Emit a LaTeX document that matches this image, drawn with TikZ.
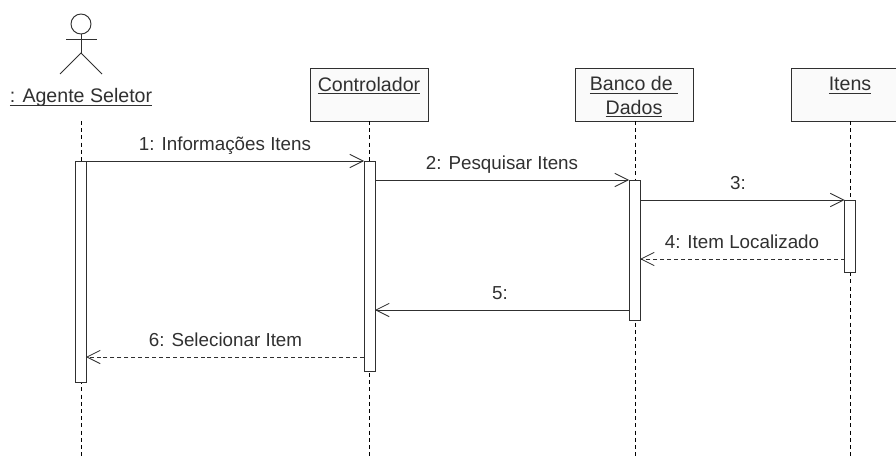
\documentclass[tikz,border=0pt]{standalone}
\usepackage{fontspec}
\setmainfont{Liberation Sans}
\usetikzlibrary{arrows.meta}
\definecolor{ink}{HTML}{303030}
\newcommand{\objfont}{\fontsize{14.7}{17}\selectfont}
\tikzset{
  x=0.75pt,y=-0.75pt,
  every node/.style={text=ink,font=\fontsize{14.1}{17}\selectfont,inner sep=0pt,outer sep=0pt},
  objbox/.style={draw=ink,line width=0.75pt,fill=black!2,minimum width=88.5pt,minimum height=39pt},
  act/.style={draw=ink,line width=0.7pt,fill=white,minimum width=8.25pt},
  life/.style={draw=black,line width=0.7pt,dash pattern=on 3pt off 2.4pt},
  msg/.style={draw=ink,line width=0.75pt,-{Straight Barb[length=10pt,width=10pt,line width=0.6pt]}},
  ret/.style={msg,dash pattern=on 3pt off 2.2pt},
  limb/.style={draw=ink,line width=0.7pt},
  lbl/.style={anchor=base},
  objlbl/.style={anchor=base,font=\objfont},
}
\newcommand{\ul}[1]{\underline{\smash{#1}}}
\begin{document}
\begin{tikzpicture}
\useasboundingbox (0,0) rectangle (896,460);
\clip (0,0) rectangle (896,460);
% boxes
\node[objbox] (cb) at (369,95) {};
\node[objbox] (bb) at (634,95) {};
\node[objbox] (ib) at (850,95) {};
\node[objlbl] (ct) at (369,91.5) {\ul{Controlador}};
\node[objlbl] (bt1) at (634,91) {\ul{Banco de\ }};
\node[objlbl] (bt2) at (634,114) {\ul{Dados}};
\node[objlbl] (it) at (850,91) {\ul{Itens}};
% actor
\node[draw=ink,line width=0.7pt,circle,minimum size=15pt] (head) at (81,24) {};
\coordinate (hip) at (81,53);
\coordinate (armL) at (66,39);
\coordinate (armR) at (97,39);
\coordinate (legL) at (60,74);
\coordinate (legR) at (102,74);
\draw[limb] (head.south) -- (hip);
\draw[limb] (armL) -- (armR);
\draw[limb] (legL) -- (hip) -- (legR);
\node[objlbl] (at) at (81,103) {\ul{: Agente Seletor}};
% lifeline ends
\coordinate (l0t) at (81,121);
\coordinate (l0b) at (81,458);
\coordinate (l1b) at (369,458);
\coordinate (l2t) at (635,121);
\coordinate (l2b) at (635,458);
\coordinate (l3b) at (850,458);
\draw[life] (l0t) -- (l0b);
\draw[life] (cb.south) -- (l1b);
\draw[life] (l2t) -- (l2b);
\draw[life] (ib.south) -- (l3b);
% activations
\node[act,minimum height=165.75pt] (a0) at (80.5,271.5) {};
\node[act,minimum height=157.5pt] (a1) at (369.5,266) {};
\node[act,minimum height=105pt] (a2) at (634.5,250) {};
\node[act,minimum height=54pt] (a3) at (850,236) {};
% message rows
\coordinate (y1) at (0,161);
\coordinate (y2) at (0,180);
\coordinate (y3) at (0,200);
\coordinate (y4) at (0,259);
\coordinate (y5) at (0,310);
\coordinate (y6) at (0,357);
\draw[msg] (a0.east |- y1) -- (a1.west |- y1);
\draw[msg] (a1.east |- y2) -- (a2.west |- y2);
\draw[msg] (a2.east |- y3) -- (a3.west |- y3);
\draw[ret] (a3.west |- y4) -- (a2.east |- y4);
\draw[msg] (a2.west |- y5) -- (a1.east |- y5);
\draw[ret] (a1.west |- y6) -- (a0.east |- y6);
% labels
\node[lbl] (m1) at (225,150.5) {1: Informações Itens};
\node[lbl] (m2) at (502,169.5) {2: Pesquisar Itens};
\node[lbl] (m3) at (738,189.5) {3:};
\node[lbl] (m4) at (742,248) {4: Item Localizado};
\node[lbl] (m5) at (500,299) {5:};
\node[lbl] (m6) at (225.5,346.5) {6: Selecionar Item};
\end{tikzpicture}
\end{document}
